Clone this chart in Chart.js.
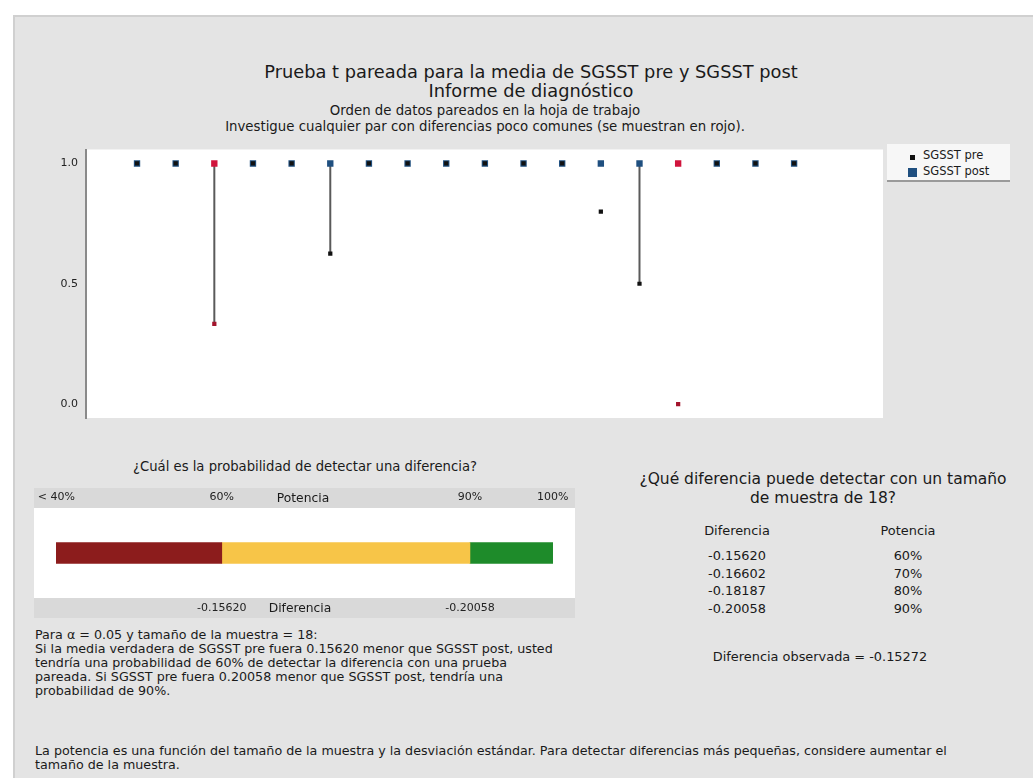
<!DOCTYPE html>
<html>
<head>
<meta charset="utf-8">
<script src="https://cdn.jsdelivr.net/npm/chart.js@4/dist/chart.umd.min.js"></script>
<style>
  html, body { margin: 0; padding: 0; }
  body { width: 1033px; height: 778px; overflow: hidden; background: #ffffff;
         font-family: "DejaVu Sans", sans-serif; color: #1a1a1a; position: relative; }
  #panel { position: absolute; left: 13px; top: 15px; width: 1020px; height: 763px;
           background: #e4e4e4; border-left: 2px solid #d0d0d0; border-top: 2px solid #d0d0d0; box-sizing: border-box; }
  .t { position: absolute; white-space: nowrap; line-height: 1; }
  .c { transform: translate(-50%, -50%); }
  .l { transform: translate(0, -50%); }
  canvas { position: absolute; }
  .band { position: absolute; background: #d9d9d9; }
  #legend { position: absolute; left: 887px; top: 144px; width: 123px; height: 38px; background: #f7f7f7;
            border-bottom: 2px solid #9a9a9a; box-sizing: border-box; }
  .sw { position: absolute; }
</style>
</head>
<body>
<div id="panel"></div>

<!-- report titles -->
<div class="t c" style="left:531px;top:72px;font-size:17.8px;">Prueba t pareada para la media de SGSST pre y SGSST post</div>
<div class="t c" style="left:531px;top:91px;font-size:17.8px;">Informe de diagnóstico</div>
<div class="t c" style="left:485px;top:111px;font-size:13.3px;">Orden de datos pareados en la hoja de trabajo</div>
<div class="t c" style="left:485px;top:127px;font-size:13.3px;">Investigue cualquier par con diferencias poco comunes (se muestran en rojo).</div>

<!-- paired data plot -->
<canvas id="pairsChart" width="860" height="280" style="left:30px;top:145px;width:860px;height:280px;"></canvas>
<div id="legend">
  <div class="sw" style="left:23px;top:11px;width:5px;height:5px;background:#111;"></div>
  <div class="t l" style="left:36px;top:12px;font-size:11.5px;">SGSST pre</div>
  <div class="sw" style="left:21px;top:24px;width:9px;height:9px;background:#1f4f7f;"></div>
  <div class="t l" style="left:36px;top:28px;font-size:11.5px;">SGSST post</div>
</div>

<!-- power bar -->
<div class="t c" style="left:305px;top:467px;font-size:13.2px;">¿Cuál es la probabilidad de detectar una diferencia?</div>
<div class="band" style="left:34px;top:488px;width:541px;height:20px;"></div>
<div class="band" style="left:34px;top:598px;width:541px;height:20px;"></div>
<canvas id="powerChart" width="541" height="130" style="left:34px;top:488px;width:541px;height:130px;"></canvas>
<div class="t c" style="left:303px;top:498px;font-size:12.3px;">Potencia</div>
<div class="t c" style="left:300px;top:608px;font-size:12.3px;">Diferencia</div>

<!-- explanation -->
<div id="para" class="t" style="left:35px;top:628px;font-size:12.7px;line-height:14px;"></div>

<!-- detectable difference table -->
<div class="t c" style="left:823px;top:480px;font-size:15.5px;">¿Qué diferencia puede detectar con un tamaño</div>
<div class="t c" style="left:823px;top:499px;font-size:15.5px;">de muestra de 18?</div>
<div id="tbl"></div>
<div id="obs" class="t c" style="left:820px;top:657px;font-size:12.9px;"></div>

<div class="t" style="left:35px;top:744px;font-size:12.7px;line-height:14px;">La potencia es una función del tamaño de la muestra y la desviación estándar. Para detectar diferencias más pequeñas, considere aumentar el<br>tamaño de la muestra.</div>

<script>
// ---- paired observations, in worksheet order ----
const pairIds   = [1, 2, 3, 4, 5, 6, 7, 8, 9, 10, 11, 12, 13, 14, 15, 16, 17, 18];
const sgsstPre  = [1.0, 1.0, 0.333, 1.0, 1.0, 0.625, 1.0, 1.0, 1.0, 1.0, 1.0, 1.0, 0.8, 0.5, 0.0, 1.0, 1.0, 1.0];
const sgsstPost = [1.0, 1.0, 1.0, 1.0, 1.0, 1.0, 1.0, 1.0, 1.0, 1.0, 1.0, 1.0, 1.0, 1.0, 1.0, 1.0, 1.0, 1.0];
const unusualPairs = [3, 15];
const linkedPairs  = [3, 6, 14];
const yTickValues  = [0.0, 0.5, 1.0];

// ---- power analysis ----
const powerLevels     = [60, 70, 80, 90];
const detectableDiffs = [-0.15620, -0.16602, -0.18187, -0.20058];
const powerZones      = [[40, 60], [60, 90], [90, 100]];
const powerTopTicks   = [40, 60, 90, 100];
const observedDiff    = -0.15272;
const alpha = 0.05;
const sampleSize = 18;

const BLUE = '#1f4f7f', BLACK = '#111111', RED = '#d0143c', DARKRED = '#a3142c', LINK = '#5a5a5a';
const FONT = 'DejaVu Sans';

const whiteArea = {
  id: 'whiteArea',
  beforeDraw(chart) {
    const a = chart.chartArea, ctx = chart.ctx;
    ctx.save();
    ctx.fillStyle = '#ffffff';
    ctx.fillRect(a.left, a.top, a.right - a.left, a.bottom - a.top);
    ctx.restore();
  }
};

// connectors between the two measurements of selected pairs
const linkDatasets = linkedPairs.map(p => {
  const i = pairIds.indexOf(p);
  return {
    type: 'line',
    data: [{ x: p, y: sgsstPost[i] }, { x: p, y: sgsstPre[i] }],
    borderColor: LINK, borderWidth: 2, pointRadius: 0, showLine: true, order: 3
  };
});

new Chart(document.getElementById('pairsChart'), {
  type: 'scatter',
  data: {
    datasets: [
      ...linkDatasets,
      {
        label: 'SGSST post',
        data: pairIds.map((p, i) => ({ x: p, y: sgsstPost[i] })),
        pointStyle: 'rect', pointRadius: 4.5, borderWidth: 0,
        backgroundColor: pairIds.map(p => unusualPairs.includes(p) ? RED : BLUE),
        order: 2
      },
      {
        label: 'SGSST pre',
        data: pairIds.map((p, i) => ({ x: p, y: sgsstPre[i] })),
        pointStyle: 'rect', pointRadius: 3, borderWidth: 0,
        backgroundColor: pairIds.map(p => unusualPairs.includes(p) ? DARKRED : BLACK),
        order: 1
      }
    ]
  },
  options: {
    responsive: false, animation: false, events: [],
    layout: { padding: { top: 2, right: 7, bottom: 7, left: 0 } },
    plugins: { legend: { display: false }, tooltip: { enabled: false } },
    scales: {
      x: { type: 'linear', min: -0.32, max: 20.3, display: false },
      y: {
        min: -0.058, max: 1.058,
        afterBuildTicks: s => { s.ticks = yTickValues.map(v => ({ value: v })); },
        afterFit: s => { s.width = 56; s.paddingTop = 0; s.paddingBottom = 0; },
        ticks: { color: '#222', font: { family: FONT, size: 11 }, padding: 8,
                 callback: v => Number(v).toFixed(1) },
        grid: { display: false, drawTicks: false },
        border: { display: true, color: '#8a8a8a', width: 2 }
      }
    }
  },
  plugins: [whiteArea]
});

// power bar: red below 60%, yellow 60–90%, green above 90%
const zoneColors = ['#8c1c1c', '#f7c548', '#1e8b2a'];
const diffAt = pct => detectableDiffs[powerLevels.indexOf(pct)].toFixed(5);

new Chart(document.getElementById('powerChart'), {
  type: 'bar',
  data: {
    labels: ['Potencia'],
    datasets: powerZones.map((z, k) => ({
      data: [z], backgroundColor: zoneColors[k], borderWidth: 0, barThickness: 21
    }))
  },
  options: {
    indexAxis: 'y', responsive: false, animation: false, events: [],
    layout: { padding: 0 },
    plugins: { legend: { display: false }, tooltip: { enabled: false } },
    datasets: { bar: { grouped: false } },
    scales: {
      y: { display: false },
      x: {
        position: 'top', min: 37.3, max: 102.7,
        afterBuildTicks: s => { s.ticks = powerTopTicks.map(v => ({ value: v })); },
        afterFit: s => { s.height = 20; s.paddingLeft = 0; s.paddingRight = 0; },
        ticks: { color: '#222', font: { family: FONT, size: 11 }, padding: 4, maxRotation: 0,
                 callback: v => v === 40 ? '< 40%' : v + '%' },
        grid: { display: false, drawTicks: false }, border: { display: false }
      },
      x2: {
        type: 'linear', position: 'bottom', min: 37.3, max: 102.7,
        afterBuildTicks: s => { s.ticks = [60, 90].map(v => ({ value: v })); },
        afterFit: s => { s.height = 20; s.paddingLeft = 0; s.paddingRight = 0; },
        ticks: { color: '#222', font: { family: FONT, size: 11 }, padding: 4, maxRotation: 0,
                 callback: v => diffAt(v) },
        grid: { display: false, drawTicks: false }, border: { display: false }
      }
    }
  },
  plugins: [whiteArea]
});

// explanatory text
document.getElementById('para').innerHTML =
  'Para α = ' + alpha.toFixed(2) + ' y tamaño de la muestra = ' + sampleSize + ':<br>' +
  'Si la media verdadera de SGSST pre fuera ' + Math.abs(detectableDiffs[0]).toFixed(5) + ' menor que SGSST post, usted<br>' +
  'tendría una probabilidad de 60% de detectar la diferencia con una prueba<br>' +
  'pareada. Si SGSST pre fuera ' + Math.abs(detectableDiffs[3]).toFixed(5) + ' menor que SGSST post, tendría una<br>' +
  'probabilidad de 90%.';

// table of detectable differences
let html = '<div class="t c" style="left:737px;top:531px;font-size:12.9px;">Diferencia</div>' +
           '<div class="t c" style="left:908px;top:531px;font-size:12.9px;">Potencia</div>';
detectableDiffs.forEach((d, i) => {
  const y = 556 + i * 17.5;
  html += '<div class="t c" style="left:737px;top:' + y + 'px;font-size:12.9px;">' + d.toFixed(5) + '</div>' +
          '<div class="t c" style="left:908px;top:' + y + 'px;font-size:12.9px;">' + powerLevels[i] + '%</div>';
});
document.getElementById('tbl').innerHTML = html;
document.getElementById('obs').textContent = 'Diferencia observada = ' + observedDiff.toFixed(5);
</script>
</body>
</html>
